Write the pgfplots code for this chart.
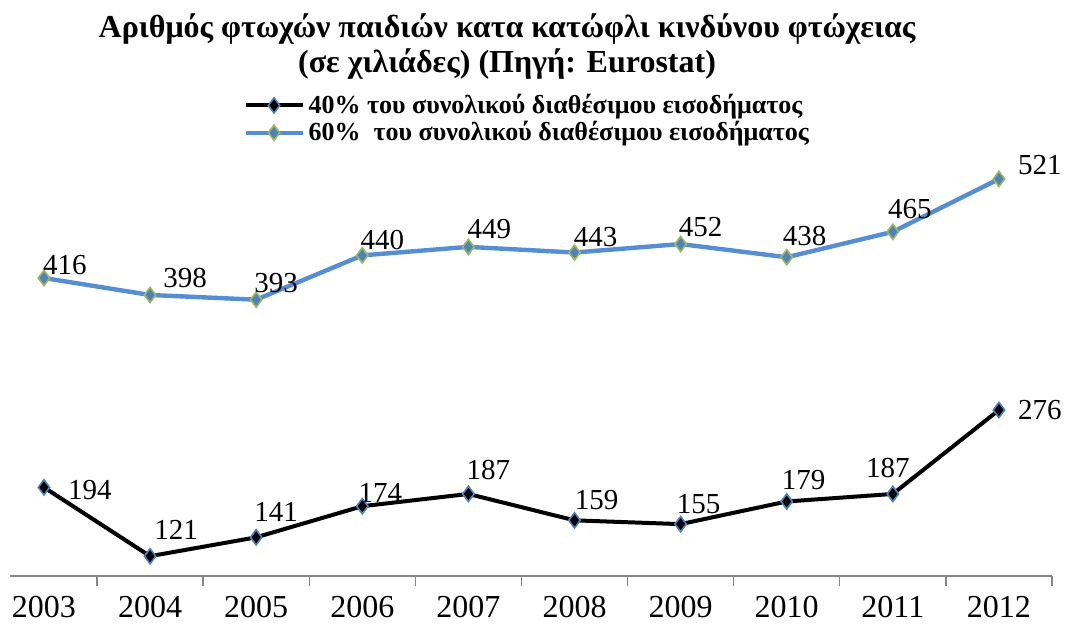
\documentclass[border=0pt]{standalone}
\usepackage{fontspec}
\setmainfont{Liberation Serif}
\usepackage{pgfplots}
\pgfplotsset{compat=1.18}
\usepackage{pgfplotstable}
\definecolor{lineBlue}{RGB}{85,142,213}
\definecolor{markBlue}{RGB}{79,129,189}
\definecolor{markGreen}{RGB}{155,187,89}
\definecolor{axisGray}{RGB}{134,134,134}

% x = category index (2003 = 0), dx/dy = label offset in px
\pgfplotstableread{
x y dx dy
0 194 46 -3
1 121 26 26
2 141 20 25
3 174 18 13
4 187 20 24
5 159 22 20
6 155 18 20
7 179 17 21
8 187 -5 26
9 276 41 0
}\lowdata
\pgfplotstableread{
x y dx dy
0 416 21 13
1 398 35 17
2 393 20 17
3 440 20 15
4 449 21 18
5 443 21 16
6 452 20 17
7 438 18 21
8 465 17 23
9 521 41 14
}\highdata

\pgfplotsset{
  labelled/.style={
    forget plot, draw=none, mark=none,
    nodes near coords,
    visualization depends on={\thisrow{dx}\as\dx},
    visualization depends on={\thisrow{dy}\as\dy},
    every node near coord/.append style={anchor=center, inner sep=0pt,
      font=\fontsize{14.5}{16}\selectfont, text=black,
      xshift=\dx*0.5pt, yshift=\dy*0.5pt},
  },
}

\begin{document}
\begin{tikzpicture}
\begin{axis}[
  name=ax,
  scale only axis,
  width=521pt, height=235.75pt,
  xmin=-0.32, xmax=9.5,
  ymin=100, ymax=600,
  axis x line*=bottom,
  axis y line=none,
  axis line style={axisGray, line width=0.7pt},
  xtick={0,...,9},
  xticklabels={2003,2004,2005,2006,2007,2008,2009,2010,2011,2012},
  minor xtick={0.5,1.5,...,9.5},
  major tick length=0pt,
  minor tick length=5pt,
  tick align=outside,
  minor tick style={axisGray, line width=0.7pt},
  xticklabel style={font=\fontsize{16}{18}\selectfont, yshift=-6.5pt},
  /pgf/number format/assume math mode=true,
  clip=false,
  title={Αριθμός φτωχών παιδιών κατα κατώφλι κινδύνου φτώχειας\\(σε χιλιάδες) (Πηγή: Eurostat)},
  title style={at={(0.477,1)}, anchor=south, yshift=6.5pt, inner sep=0pt,
    align=center, font=\bfseries\fontsize{16}{17.5}\selectfont},
  legend style={at={(0.2236,1.031)}, anchor=north west, draw=none, fill=none,
    font=\bfseries\fontsize{13}{15}\selectfont, inner sep=0pt,
    row sep=-1.5pt, cells={anchor=west}},
  legend image code/.code={\draw[mark repeat=2,mark phase=2,#1]
    plot coordinates {(0cm,0cm) (0.5cm,0cm) (1cm,0cm)};},
]
\addplot[black, line width=2pt, mark=diamond*, mark size=3.8pt,
  mark options={fill=black, draw=markBlue, line width=0.8pt}]
  table[x=x, y=y] {\lowdata};
\addlegendentry{40\% του συνολικού διαθέσιμου εισοδήματος}
\addplot[lineBlue, line width=2.2pt, mark=diamond*, mark size=3.8pt,
  mark options={fill=markBlue, draw=markGreen, line width=0.8pt}]
  table[x=x, y=y] {\highdata};
\addlegendentry{60\%\ \ του συνολικού διαθέσιμου εισοδήματος}
\addplot[labelled] table[x=x, y=y] {\lowdata};
\addplot[labelled] table[x=x, y=y] {\highdata};
\end{axis}
\pgfresetboundingbox
\path[use as bounding box] ([shift={(-5pt,-24pt)}]ax.south west) rectangle ++(533pt,312pt);
\end{tikzpicture}
\end{document}
